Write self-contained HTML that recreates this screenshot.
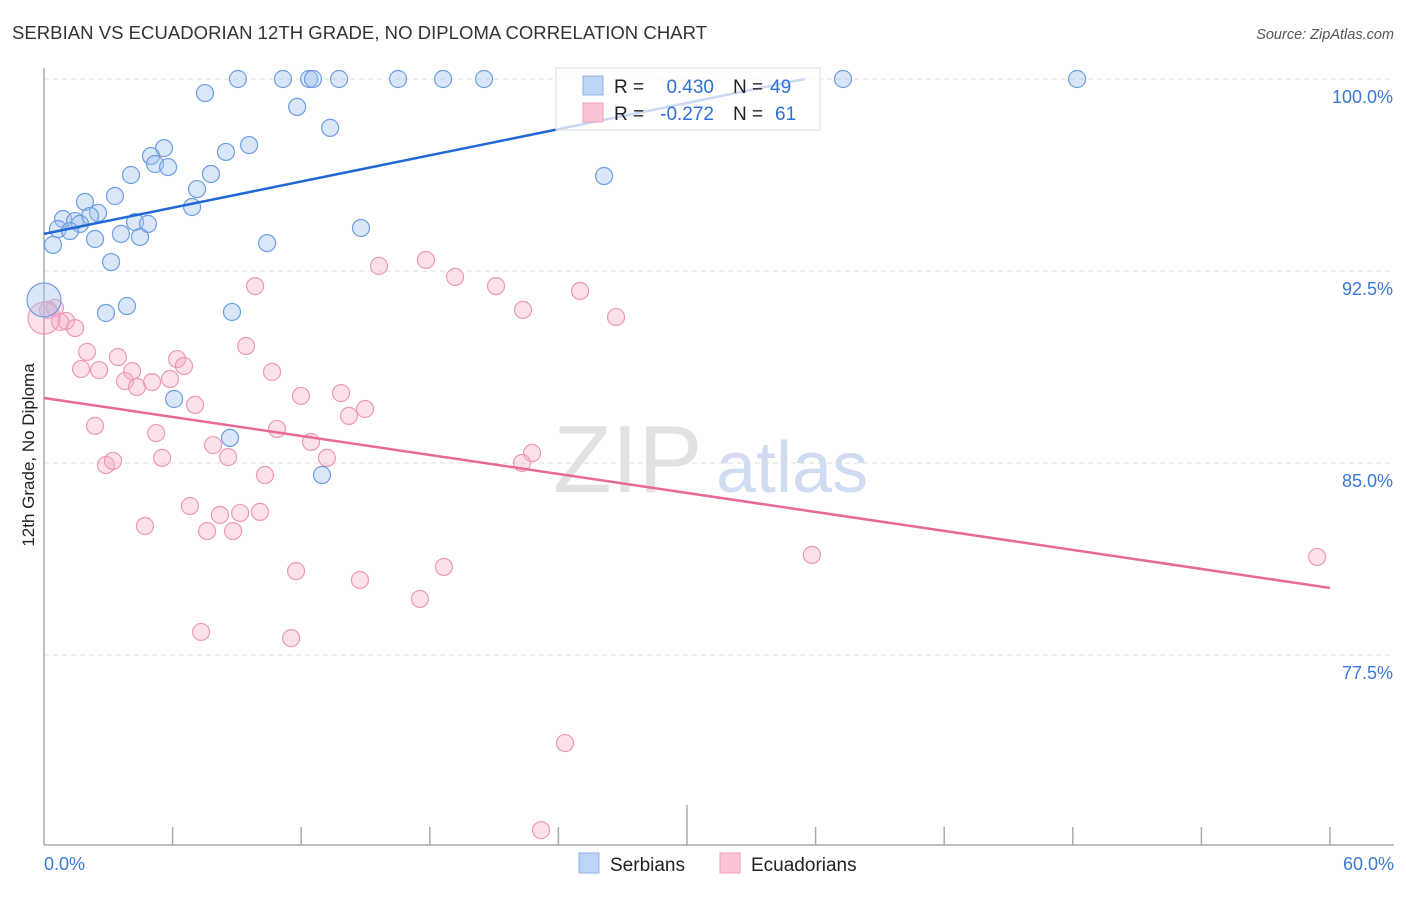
<!DOCTYPE html>
<html><head><meta charset="utf-8"><style>
body{margin:0;background:#fff;font-family:"Liberation Sans",sans-serif}
svg text{font-family:"Liberation Sans",sans-serif}
</style></head><body>
<svg id="c" width="1406" height="892">
<text x="12" y="39" font-size="18.5" fill="#333" textLength="695">SERBIAN VS ECUADORIAN 12TH GRADE, NO DIPLOMA CORRELATION CHART</text>
<text x="1394" y="39" font-size="14.5" fill="#555" font-style="italic" text-anchor="end">Source: ZipAtlas.com</text>
<text x="0" y="0" transform="translate(34,455) rotate(-90)" font-size="17" fill="#222" text-anchor="middle">12th Grade, No Diploma</text>
<g>
<text x="553" y="492" font-size="96" font-family="Liberation Serif" fill="#e2e2e2">ZIP</text>
<text x="716" y="492" font-size="72" fill="#cfdcf2">atlas</text>
</g>
<g id="grid"></g><g id="axes"></g><g id="pts"></g><g id="lines"></g>
<g>
<rect x="556" y="68" width="264" height="62" fill="#fff" fill-opacity="0.75" stroke="#ddd"/>
<rect x="583" y="76" width="20" height="19" fill="#bcd4f5" stroke="#8fb1e6"/>
<rect x="583" y="103" width="20" height="19" fill="#f9c5d5" stroke="#eba2b8"/>
<text x="614" y="93" font-size="19" fill="#222">R =</text>
<text x="714" y="93" font-size="19" fill="#2f6fd6" text-anchor="end">0.430</text>
<text x="733" y="93" font-size="19" fill="#222">N =</text>
<text x="770" y="93" font-size="19" fill="#2f6fd6">49</text>
<text x="614" y="120" font-size="19" fill="#222">R =</text>
<text x="714" y="120" font-size="19" fill="#2f6fd6" text-anchor="end">-0.272</text>
<text x="733" y="120" font-size="19" fill="#222">N =</text>
<text x="775" y="120" font-size="19" fill="#2f6fd6">61</text>
</g>
<g>
<rect x="579" y="853" width="20" height="20" fill="#bcd4f5" stroke="#8fb1e6"/>
<text x="610" y="871" font-size="19" fill="#222">Serbians</text>
<rect x="720" y="853" width="20" height="20" fill="#f9c5d5" stroke="#eba2b8"/>
<text x="751" y="871" font-size="19" fill="#222">Ecuadorians</text>
</g>
</svg>
<script>
const serbX=[9.05,11.15,12.37,12.55,13.77,16.52,18.62,20.53,37.28,48.2,7.51,11.81,13.35,9.57,8.49,5.6,4.99,5.18,5.79,4.06,7.79,26.13,7.14,3.31,1.91,6.91,2.52,0.89,2.15,1.45,1.68,0.65,1.21,4.25,4.85,3.59,4.48,2.38,10.41,14.79,0.42,3.13,0,3.87,2.89,8.77,6.07,8.68,12.97];
const serbY=[100,100,100,100,100,100,100,100,100,100,99.45,98.91,98.09,97.42,97.15,97.3,96.99,96.68,96.56,96.25,96.29,96.21,95.7,95.43,95.2,95.0,94.77,94.53,94.65,94.45,94.34,94.14,94.06,94.41,94.34,93.95,93.83,93.75,93.59,94.18,93.52,92.85,91.37,91.13,90.86,90.9,87.5,85.98,84.53];
const ecuX=[0.51,0.19,1.03,1.45,0.75,0,2.01,3.45,1.73,2.57,4.11,3.78,4.34,5.04,5.88,6.21,6.53,9.43,10.64,11.99,13.86,14.23,14.98,7.05,2.38,5.23,7.89,8.59,10.87,12.46,13.2,2.89,3.22,5.51,10.31,6.81,8.21,9.15,10.08,4.71,7.61,8.82,11.76,14.74,7.33,11.53,9.85,15.63,17.82,19.18,21.09,22.35,25.01,26.69,22.77,22.3,18.66,17.54,35.83,59.4,24.31,23.19];
const ecuY=[91.06,90.98,90.55,90.27,90.51,90.66,89.34,89.14,88.67,88.63,88.59,88.2,87.97,88.16,88.28,89.06,88.79,89.57,88.56,87.62,87.73,86.84,87.11,87.27,86.45,86.17,85.7,85.23,86.33,85.82,85.2,84.92,85.08,85.2,84.53,83.32,82.97,83.05,83.09,82.54,82.34,82.34,80.78,80.43,78.4,78.16,91.91,92.7,92.93,92.27,91.91,90.98,91.72,90.7,85.39,85.0,80.94,79.69,81.41,81.33,74.06,70.66];
const yTicks=[100,92.5,85,77.5];
const yTickLabels=["100.0%","92.5%","85.0%","77.5%"];
const serbTrend=[0,93.95,35.5,100];
const ecuTrend=[0,87.54,60,80.12];
const NS="http://www.w3.org/2000/svg";
const X=v=>44+v/60*1286, Y=v=>79+(100-v)/7.5*192;
function mk(t,a,p){const e=document.createElementNS(NS,t);for(const k in a)e.setAttribute(k,a[k]);p.appendChild(e);return e;}
const grid=document.getElementById('grid'),axes=document.getElementById('axes'),pts=document.getElementById('pts'),lines=document.getElementById('lines');
yTicks.forEach((t,i)=>{
 const l=mk('line',{x1:44,x2:1394,y1:Y(t),y2:Y(t),stroke:'#ddd','stroke-dasharray':'5,4'},grid);
 
 
 const tx=mk('text',{x:1393,y:Y(t)+24,'font-size':18,fill:'#3a78d8','text-anchor':'end'},grid);
 tx.textContent=yTickLabels[i];
 
 
});
mk('line',{x1:44,x2:44,y1:68,y2:845,stroke:'#aaa','stroke-width':1.5},axes);
mk('line',{x1:44,x2:1394,y1:845,y2:845,stroke:'#aaa','stroke-width':1.5},axes);
for(let i=1;i<=10;i++){const x=X(i*6);mk('line',{x1:x,x2:x,y1:i==5?805:827,y2:845,stroke:'#aaa','stroke-width':1.5},axes);}
const xl0=mk('text',{x:44,y:870,'font-size':18,fill:'#3a78d8'},axes);xl0.textContent='0.0%';


const xl1=mk('text',{x:1394,y:870,'font-size':18,fill:'#3a78d8','text-anchor':'end'},axes);xl1.textContent='60.0%';


ecuX.forEach((v,i)=>{
 const c=mk('circle',{cx:X(v),cy:Y(ecuY[i]),r:i==5?16:8.5,fill:'rgba(246,170,195,0.35)',stroke:'#ec9ab5','stroke-width':1.2},pts);
 
 
});
serbX.forEach((v,i)=>{
 const c=mk('circle',{cx:X(v),cy:Y(serbY[i]),r:i==42?17:8.5,fill:'rgba(160,195,240,0.4)',stroke:'#6e9de0','stroke-width':1.2},pts);
 
 
});
const sl=mk('line',{x1:X(serbTrend[0]),y1:Y(serbTrend[1]),x2:X(serbTrend[2]),y2:Y(serbTrend[3]),stroke:'#2168d4','stroke-width':2.5},lines);


const el=mk('line',{x1:X(ecuTrend[0]),y1:Y(ecuTrend[1]),x2:X(ecuTrend[2]),y2:Y(ecuTrend[3]),stroke:'#e8689a','stroke-width':2.5},lines);


</script>
</body></html>
